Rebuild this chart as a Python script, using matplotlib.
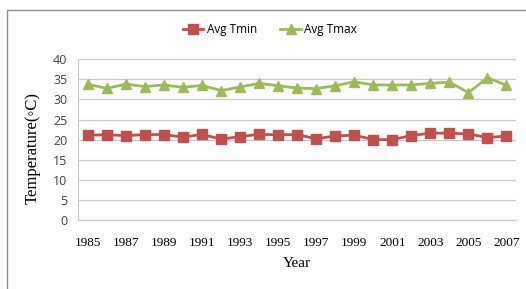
import matplotlib
matplotlib.use("Agg")
import matplotlib.pyplot as plt
from matplotlib.patches import Rectangle

# data
years = list(range(1985, 2008))
avg_tmin = [21.1, 21.2, 21.0, 21.25, 21.25, 20.6, 21.3, 20.1, 20.75, 21.3, 21.2, 21.25,
            20.2, 20.9, 21.1, 20.0, 20.0, 21.0, 21.6, 21.6, 21.4, 20.5, 20.9]
avg_tmax = [33.75, 32.75, 33.8, 33.2, 33.6, 33.0, 33.5, 32.2, 33.1, 34.0, 33.4, 32.8,
            32.7, 33.4, 34.4, 33.6, 33.6, 33.6, 34.0, 34.3, 31.7, 35.4, 33.5]
x_labels = [str(y) if (y - 1985) % 2 == 0 else "" for y in years]

red = "#C0504D"
green = "#9BBB59"
serif = ["Liberation Serif", "DejaVu Serif"]

fig = plt.figure(figsize=(5.26, 2.89), dpi=100)
ax = fig.add_axes([0.149, 0.239, 0.832, 0.556])

# outer chart border
fig.patches.append(Rectangle((7 / 526, -0.05), 1.1, 1 - 10 / 289 + 0.05, transform=fig.transFigure,
                             fill=False, edgecolor="#8c8c8c", linewidth=1.0))

xs = range(len(years))
ax.plot(xs, avg_tmin, color=red, marker="s", markersize=6.5, linewidth=2, label="Avg Tmin")
ax.plot(xs, avg_tmax, color=green, marker="^", markersize=7, linewidth=2, label="Avg Tmax")

ax.set_xlim(-0.5, len(years) - 0.5)
ax.set_ylim(0, 40)
ax.set_yticks(range(0, 41, 5))
ax.set_xticks(list(xs))
ax.set_xticklabels(x_labels, fontfamily=serif, fontsize=9.5)
for lbl in ax.get_yticklabels():
    lbl.set_fontfamily("Open Sans")
    lbl.set_fontsize(9)
    lbl.set_color("#404040")
ax.tick_params(axis="both", length=0)
ax.tick_params(axis="x", pad=12)
ax.tick_params(axis="y", pad=8)

ax.grid(axis="y", color="#c8c8c8", linewidth=0.9)
ax.set_axisbelow(True)
for s in ["top", "right"]:
    ax.spines[s].set_visible(False)
for s in ["left", "bottom"]:
    ax.spines[s].set_color("#c8c8c8")
    ax.spines[s].set_linewidth(0.9)

ax.set_ylabel("Temperature(◦C)", fontfamily=serif, fontsize=12)
ax.yaxis.set_label_coords(-0.087, 0.45)
ax.set_xlabel("Year", fontfamily=serif, fontsize=11, labelpad=6)

fig.legend(*ax.get_legend_handles_labels(), loc="center",
           bbox_to_anchor=(270 / 526, 1 - 30 / 289), ncol=2, frameon=False,
           prop={"family": "Open Sans", "size": 8.5}, handlelength=1.7, handletextpad=0.3,
           columnspacing=2.0)

fig.savefig("out.png", dpi=100)
